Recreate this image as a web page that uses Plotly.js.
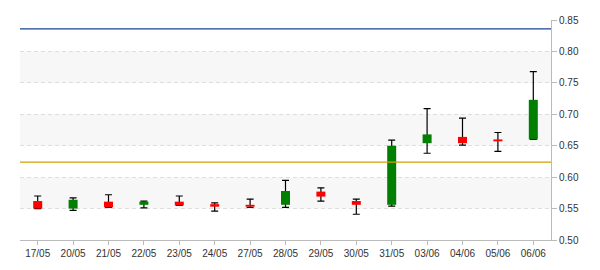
<!DOCTYPE html>
<html>
<head>
<meta charset="utf-8">
<script src="https://cdn.plot.ly/plotly-3.0.1.min.js"></script>
<style>html,body{margin:0;padding:0;background:#fff;}#chart{width:600px;height:270px;}</style>
</head>
<body>
<div id="chart"></div>
<script>
// ---- data ----
var dates  = ['17/05','20/05','21/05','22/05','23/05','24/05','27/05','28/05','29/05','30/05','31/05','03/06','04/06','05/06','06/06'];
var open   = [0.562, 0.550, 0.561, 0.556, 0.561, 0.557, 0.556, 0.556, 0.577, 0.562, 0.556, 0.654, 0.664, 0.660, 0.660];
var close  = [0.550, 0.564, 0.552, 0.561, 0.555, 0.553, 0.553, 0.578, 0.569, 0.556, 0.650, 0.668, 0.654, 0.657, 0.723];
var high   = [0.570, 0.567, 0.572, 0.562, 0.570, 0.559, 0.565, 0.595, 0.583, 0.565, 0.659, 0.709, 0.694, 0.671, 0.768];
var low    = [0.550, 0.547, 0.552, 0.551, 0.555, 0.546, 0.552, 0.552, 0.562, 0.541, 0.554, 0.638, 0.651, 0.641, 0.660];
var refHigh = 0.836;
var refLow  = 0.624;
var yTicks  = [0.50, 0.55, 0.60, 0.65, 0.70, 0.75, 0.80, 0.85];

// ---- traces ----
var mid = open.map(function(o, i){ return (o + close[i]) / 2; });
var wick = {
  type: 'scatter', mode: 'markers', x: dates, y: mid,
  marker: {size: 1, opacity: 0}, hoverinfo: 'skip', showlegend: false,
  error_y: {type: 'data', symmetric: false,
    array: high.map(function(h, i){ return h - mid[i]; }),
    arrayminus: low.map(function(l, i){ return mid[i] - l; }),
    color: '#000', thickness: 1.2, width: 3.5}
};
function bodyTrace(up, color) {
  var xs = [], ys = [], hs = [];
  dates.forEach(function(d, i){
    if ((close[i] >= open[i]) === up) {
      xs.push(d); ys.push(mid[i]); hs.push(Math.abs(close[i] - open[i]) / 2);
    }
  });
  return {
    type: 'scatter', mode: 'markers', x: xs, y: ys,
    marker: {size: 1, opacity: 0}, hoverinfo: 'skip', showlegend: false,
    error_y: {type: 'data', symmetric: true, array: hs, color: color, thickness: 9, width: 0}
  };
}
var rising = bodyTrace(true, '#007f00');
var falling = bodyTrace(false, '#ff0000');

// ---- layout ----
var bands = [[0.55, 0.60], [0.65, 0.70], [0.75, 0.80]].map(function(b){
  return {type: 'rect', xref: 'paper', yref: 'y', x0: 0, x1: 1, y0: b[0], y1: b[1],
          fillcolor: '#f7f7f7', line: {width: 0}, layer: 'below'};
});
var lines = [
  {type: 'line', xref: 'paper', yref: 'y', x0: 0, x1: 1, y0: refHigh, y1: refHigh, line: {color: '#1a4494', width: 1.3}},
  {type: 'line', xref: 'paper', yref: 'y', x0: 0, x1: 1, y0: refLow, y1: refLow, line: {color: '#d4a000', width: 1.3}}
];

var layout = {
  width: 600, height: 270,
  margin: {l: 20, r: 49, t: 20, b: 30},
  paper_bgcolor: '#fff', plot_bgcolor: '#fff',
  showlegend: false,
  font: {family: 'Liberation Sans, Arial, sans-serif', size: 10, color: '#333'},
  xaxis: {
    type: 'category', categoryorder: 'array', categoryarray: dates,
    range: [-0.5, dates.length - 0.5],
    showgrid: false, zeroline: false,
    showline: true, linecolor: '#bbb', linewidth: 1,
    ticks: 'outside', ticklen: 4, tickcolor: '#bbb',
    tickfont: {size: 10, color: '#333'}
  },
  yaxis: {
    side: 'right', range: [0.50, 0.85],
    tickvals: yTicks, ticktext: yTicks.map(function(v){ return v.toFixed(2); }),
    showgrid: true, gridcolor: '#dedede', griddash: '4px,3px', gridwidth: 1,
    zeroline: false,
    showline: true, linecolor: '#bbb', linewidth: 1,
    ticks: 'outside', ticklen: 5, tickcolor: '#bbb',
    tickfont: {size: 10, color: '#333'}
  },
  shapes: bands.concat(lines)
};

Plotly.newPlot('chart', [wick, rising, falling], layout, {staticPlot: true, displayModeBar: false});
</script>
</body>
</html>
